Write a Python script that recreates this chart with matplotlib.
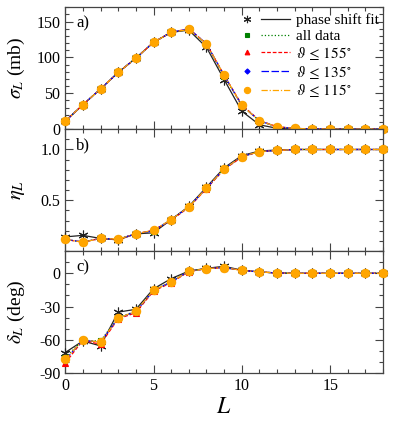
import numpy as np
import matplotlib
matplotlib.use("Agg")
import matplotlib.pyplot as plt
from matplotlib.lines import Line2D
from matplotlib.legend_handler import HandlerTuple
from matplotlib.ticker import AutoMinorLocator, MultipleLocator

plt.rcParams['font.family'] = ['Liberation Serif', 'DejaVu Serif']
plt.rcParams['mathtext.fontset'] = 'stix'

# data
L = np.arange(19)

# cross sections sigma_L (mb)
sig_fit = [11, 34, 56, 79, 99, 121, 135, 138, 114, 69, 25, 6, 1.2, 0.3, 0, 0, 0, 0, 0]
sig_all = [11, 34, 56, 79, 99, 121, 135, 139, 118, 74, 33, 11.5, 3.2, 1, 0.4, 0.1, 0, 0, 0]
sig_155 = [11, 34, 56, 79, 99, 121, 135, 140, 119, 75, 34, 12, 3.4, 1, 0.4, 0.1, 0, 0, 0]
sig_135 = [11, 34, 56, 79, 99, 121, 135, 140, 119, 75, 33, 11.5, 3.2, 1, 0.4, 0.1, 0, 0, 0]
sig_115 = [11, 34, 56, 79, 99, 121, 135, 139, 119, 75, 33, 11.5, 3.2, 1, 0.4, 0.1, 0, 0, 0]

# absorption eta_L
eta_fit = [0.14, 0.155, 0.125, 0.11, 0.17, 0.18, 0.31, 0.44, 0.63, 0.82, 0.94, 0.985, 0.995, 1, 1, 1, 1, 1, 1]
eta_all = [0.115, 0.09, 0.125, 0.118, 0.17, 0.2, 0.31, 0.435, 0.62, 0.81, 0.93, 0.98, 0.99, 1, 1, 1, 1, 1, 1]
eta_155 = [0.115, 0.088, 0.125, 0.115, 0.17, 0.205, 0.305, 0.43, 0.615, 0.805, 0.925, 0.98, 0.99, 1, 1, 1, 1, 1, 1]
eta_135 = [0.115, 0.09, 0.125, 0.118, 0.17, 0.2, 0.31, 0.435, 0.62, 0.81, 0.93, 0.98, 0.99, 1, 1, 1, 1, 1, 1]
eta_115 = [0.115, 0.088, 0.125, 0.118, 0.17, 0.205, 0.31, 0.435, 0.62, 0.81, 0.93, 0.98, 0.99, 1, 1, 1, 1, 1, 1]

# phase shifts delta_L (deg)
del_fit = [-71.5, -61, -65.5, -35, -32.5, -14, -4.8, 2, 4.5, 6.3, 2.8, 1.2, 0.3, 0, 0, 0, 0, 0, 0]
del_all = [-76, -60.5, -61, -40, -34, -15.3, -7.5, 1.8, 4.2, 5.1, 2.7, 1.2, 0.3, 0, 0, 0, 0, 0, 0]
del_155 = [-81, -60.5, -64, -41, -35.6, -16, -8.5, 1.6, 4.2, 5.0, 2.7, 1.2, 0.3, 0, 0, 0, 0, 0, 0]
del_135 = [-78, -60.5, -62, -40.5, -34.5, -15.5, -7.8, 1.8, 4.2, 5.1, 2.7, 1.2, 0.3, 0, 0, 0, 0, 0, 0]
del_115 = [-77.7, -60.3, -62, -40.5, -34.2, -15.3, -7.8, 1.8, 4.2, 5.1, 2.7, 1.2, 0.3, 0, 0, 0, 0, 0, 0]

labels = ['phase shift fit', 'all data', r'$\vartheta\,\leq\,155^{\circ}$',
          r'$\vartheta\,\leq\,135^{\circ}$', r'$\vartheta\,\leq\,115^{\circ}$']
colors = ['#222222', 'green', 'red', 'blue', 'orange']
lstyles = ['-', ':', (0, (3, 1.5)), (0, (6, 2)), (0, (5, 1.5, 1, 1.5))]
markers = [(6, 2, 0), 's', '^', 'D', 'o']
msizes = [7, 4.5, 4.5, 3.5, 6]

fig = plt.figure(figsize=(3.95, 4.23), dpi=100)
gs = fig.add_gridspec(3, 1, left=0.165, right=0.97, top=0.983, bottom=0.118, hspace=0)
axs = [fig.add_subplot(gs[i]) for i in range(3)]

sets = [
    [sig_fit, sig_all, sig_155, sig_135, sig_115],
    [eta_fit, eta_all, eta_155, eta_135, eta_115],
    [del_fit, del_all, del_155, del_135, del_115],
]

for ax, ys in zip(axs, sets):
    for y, c, ls, m, ms in zip(ys, colors, lstyles, markers, msizes):
        ax.plot(L, y, color=c, ls=ls, lw=0.9, marker=m, ms=ms, mec=c, mew=0.8,
                clip_on=False, zorder=3)
    ax.set_xlim(0, 18)
    ax.xaxis.set_major_locator(MultipleLocator(5))
    ax.xaxis.set_minor_locator(MultipleLocator(1))
    ax.tick_params(which='both', direction='in', top=True, right=True,
                   labelsize=11.5, color='#444444')
    ax.tick_params(which='major', length=6, width=0.8)
    ax.tick_params(which='minor', length=3, width=0.8)
    for s in ax.spines.values():
        s.set_color('#444444')
        s.set_linewidth(0.9)

axs[0].set_ylim(0, 170)
axs[0].set_yticks([0, 50, 100, 150])
axs[0].yaxis.set_minor_locator(AutoMinorLocator(5))
axs[0].set_ylabel(r'$\sigma_L$ (mb)', fontsize=14)

axs[1].set_ylim(0, 1.2)
axs[1].set_yticks([0.5, 1.0])
axs[1].set_yticklabels(['0.5', '1.0'])
axs[1].yaxis.set_minor_locator(MultipleLocator(0.1))
axs[1].set_ylabel(r'$\eta_L$', fontsize=15)

axs[2].set_ylim(-90, 20)
axs[2].set_yticks([-90, -60, -30, 0])
axs[2].set_yticklabels(['-90', '-60', '-30', '0'])
axs[2].yaxis.set_minor_locator(MultipleLocator(10))
axs[2].set_ylabel(r'$\delta_L$ (deg)', fontsize=14)
axs[2].set_xlabel(r'$L$', fontsize=17, labelpad=2)

for ax in axs[:2]:
    ax.tick_params(labelbottom=False)

for ax in axs:
    ax.yaxis.set_label_coords(-0.12, 0.5)

for ax, t in zip(axs, ['a)', 'b)', 'c)']):
    ax.text(0.035, 0.93, t, transform=ax.transAxes, fontsize=12, va='top', ha='left')

handles = []
for c, ls, m, ms in zip(colors, lstyles, markers, msizes):
    hm = Line2D([], [], ls='none', marker=m, ms=ms * 0.75, color=c, mec=c, mew=0.8)
    hl = Line2D([], [], ls=ls, lw=0.9, color=c)
    handles.append((hm, hl))
axs[0].legend(handles, labels, handler_map={tuple: HandlerTuple(ndivide=None, pad=0.0)},
              loc='upper right', bbox_to_anchor=(1.01, 1.01), frameon=False,
              fontsize=11, handlelength=3.8, handletextpad=0.35, labelspacing=0.12,
              borderaxespad=0.1)

fig.savefig('out.png', dpi=100)
